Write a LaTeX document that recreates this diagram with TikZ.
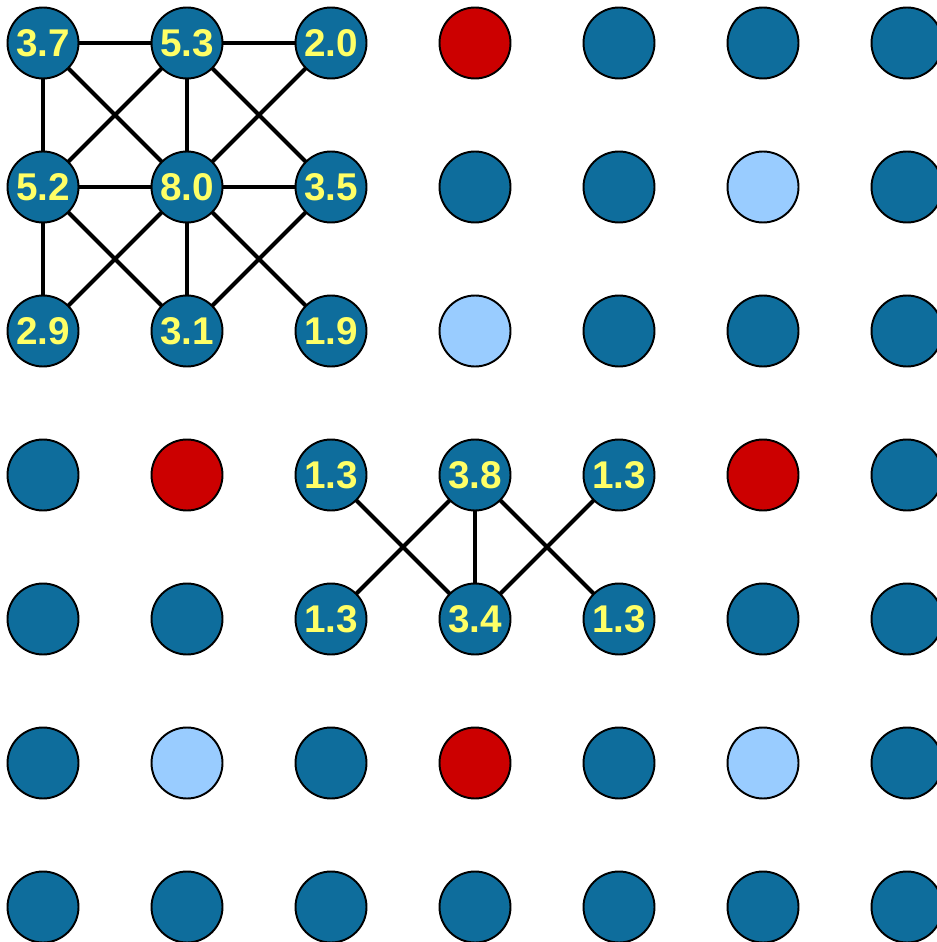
\documentclass[tikz,border=0pt]{standalone}
\usepackage{fontspec}
\setmainfont{Liberation Sans}
\usetikzlibrary{positioning}
\definecolor{darkblue}{HTML}{0E6D9C}
\definecolor{lightblue}{HTML}{99CCFF}
\definecolor{darkred}{HTML}{CC0000}
\definecolor{labelyellow}{HTML}{FFFF66}
\def\kdark{d}
\def\klight{l}
\def\kred{r}
\tikzset{
  site/.style={circle, draw=black, line width=1.1pt, minimum size=1.42cm, inner sep=0pt,
    fill=darkblue, text=labelyellow, font=\fontsize{22}{22}\selectfont\bfseries},
  empty/.style={site, fill=lightblue},
  hot/.style={site, fill=darkred},
  link/.style={line width=2.3pt, black}
}
\begin{document}
\begin{tikzpicture}[x=0.02cm, y=-0.02cm]
  \useasboundingbox (0,0) rectangle (936,942);
  % Links first, so the sites cover their ends
  \foreach \r in {0,...,6}
    \foreach \c in {0,...,6}
      \coordinate (p-\r-\c) at (43+144*\c, 43+144*\r);
  % Top-left cluster
  \foreach \a/\b in {0-0/0-1, 0-1/0-2, 0-0/1-0, 0-0/1-1, 0-1/1-0, 0-1/1-1, 0-1/1-2,
                     0-2/1-1, 1-0/1-1, 1-1/1-2, 1-0/2-0, 1-0/2-1, 1-1/2-0, 1-1/2-1,
                     1-1/2-2, 1-2/2-1}
    \draw[link] (p-\a) -- (p-\b);
  % Middle cluster
  \foreach \a/\b in {3-2/4-3, 3-3/4-2, 3-3/4-3, 3-3/4-4, 3-4/4-3}
    \draw[link] (p-\a) -- (p-\b);
  % Sites, row by row: d = dark, l = light, r = red, or a value
  \foreach \row [count=\r from 0] in {
      {3.7,5.3,2.0,r,d,d,d},
      {5.2,8.0,3.5,d,d,l,d},
      {2.9,3.1,1.9,l,d,d,d},
      {d,r,1.3,3.8,1.3,r,d},
      {d,d,1.3,3.4,1.3,d,d},
      {d,l,d,r,d,l,d},
      {d,d,d,d,d,d,d}}
    \foreach \v [count=\c from 0] in \row {
      \ifx\v\kdark
        \node[site] (n-\r-\c) at (p-\r-\c) {};
      \else\ifx\v\klight
        \node[empty] (n-\r-\c) at (p-\r-\c) {};
      \else\ifx\v\kred
        \node[hot] (n-\r-\c) at (p-\r-\c) {};
      \else
        \node[site] (n-\r-\c) at (p-\r-\c) {\v};
      \fi\fi\fi
    }
\end{tikzpicture}
\end{document}
